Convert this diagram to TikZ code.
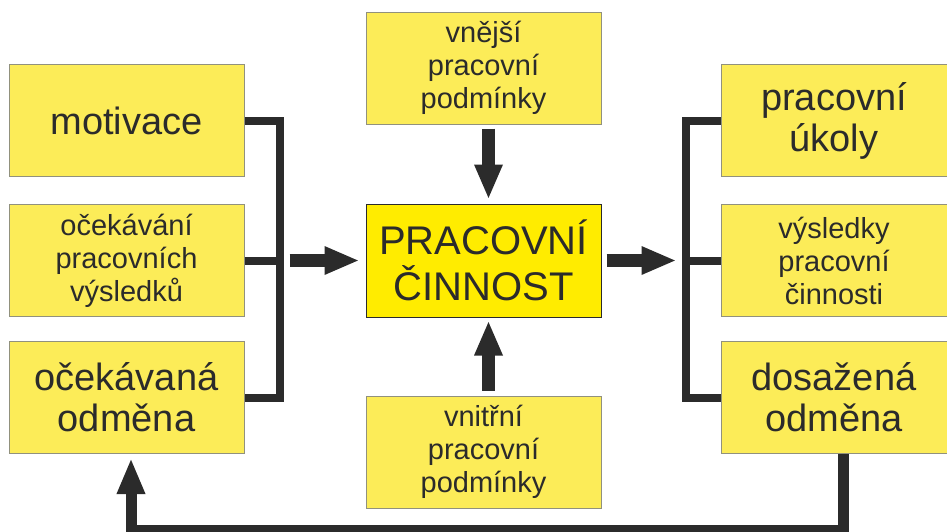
\documentclass[tikz,border=0pt]{standalone}
\usepackage{fontspec}
\setmainfont{Liberation Sans}
\usetikzlibrary{positioning, arrows.meta}

\definecolor{boxyellow}{RGB}{252,236,88}
\definecolor{coreyellow}{RGB}{255,236,0}
\definecolor{ink}{RGB}{43,43,43}
\definecolor{edge}{RGB}{145,145,125}

\begin{document}
\begin{tikzpicture}[x=1pt, y=1pt, >=Latex,
        block/.style={rectangle, draw=edge, line width=1pt, fill=boxyellow, text=ink, align=center, minimum width=235pt, minimum height=112pt, inner sep=0pt},
        small/.style={font=\fontsize{29}{33}\selectfont},
        big/.style={font=\fontsize{38}{41}\selectfont},
        core/.style={block, draw=ink, fill=coreyellow, minimum height=113pt, font=\fontsize{40}{46}\selectfont},
        link/.style={draw=ink, line width=8pt},
        fat/.style={draw=ink, line width=13pt, -{Triangle[length=35pt, width=26pt]}},
        back/.style={draw=ink, line width=11pt, -{Triangle[length=36pt, width=26pt]}}]
        \useasboundingbox (0,0) rectangle (947,-531);

        \node[core] (act) at (483.5,-260.5) {PRACOVNÍ\\ČINNOST};
        \node[block, small, above=79pt of act] (ext) {vnější\\pracovní\\podmínky};
        \node[block, small, below=78pt of act] (int) {vnitřní\\pracovní\\podmínky};

        \node[block, small, left=121pt of act] (exp) {očekávání\\pracovních\\výsledků};
        \node[block, big, above=27pt of exp] (mot) {motivace};
        \node[block, big, below=24pt of exp] (rew) {očekávaná\\odměna};

        \node[block, small, minimum width=226pt, right=119pt of act] (res) {výsledky\\pracovní\\činnosti};
        \node[block, big, minimum width=226pt, above=27pt of res] (tasks) {pracovní\\úkoly};
        \node[block, big, minimum width=226pt, below=24pt of res] (paid) {dosažená\\odměna};

        \coordinate (lbus) at ([xshift=35pt]exp.east);
        \coordinate (rbus) at ([xshift=-35pt]res.west);
        \coordinate (fbR) at ([xshift=9pt]paid.south);
        \coordinate (fbL) at ([xshift=4.5pt]rew.south);

        % inputs on the left
        \draw[link] (mot.east) -| (lbus) |- (rew.east);
        \draw[link] (exp.east) -- (lbus);
        \draw[fat, shorten <=10pt, shorten >=6pt] (lbus) -- (act.west);

        % outputs on the right
        \draw[link] (tasks.west) -| (rbus) |- (paid.west);
        \draw[link] (res.west) -- (rbus);
        \draw[fat, shorten <=5pt, shorten >=9pt] (act.east) -- (rbus);

        \draw[fat, shorten <=4pt, shorten >=4pt] ([xshift=5pt]ext.south) -- ([xshift=5pt]act.north);
        \draw[fat, shorten <=5pt, shorten >=3pt] ([xshift=5pt]int.north) -- ([xshift=5pt]act.south);

        % feedback
        \draw[back, shorten >=4pt] (fbR) -- ++(0,-76pt) -| (fbL);
    \end{tikzpicture}
\end{document}
